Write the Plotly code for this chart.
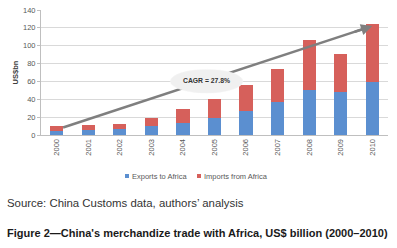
import plotly.graph_objects as go

years = [2000, 2001, 2002, 2003, 2004, 2005, 2006, 2007, 2008, 2009, 2010]
exports = [5.0, 6.0, 7.0, 10.2, 13.8, 18.7, 26.7, 37.3, 50.8, 47.7, 59.9]
imports = [5.6, 4.8, 5.4, 8.4, 15.6, 21.1, 28.8, 36.3, 56.0, 43.3, 64.5]
totals = [e + i for e, i in zip(exports, imports)]
y_ticks = [0, 20, 40, 60, 80, 100, 120, 140]
series_names = ["Exports to Africa", "Imports from Africa"]
cagr_label = "CAGR = 27.8%"

BLUE = "#5b8fd0"
RED = "#d6605b"
FONT = "Liberation Sans, Arial, sans-serif"

L, R, T, B, W, H = 41, 9, 10, 113, 397, 248
PW, PH = W - L - R, H - T - B


def px_x(px):
    return (px - L) / PW


def px_y(py):
    return (H - B - py) / PH


fig = go.Figure()
fig.add_trace(go.Bar(x=years, y=exports, name=series_names[0], marker_color=BLUE,
                     marker_line_width=0, showlegend=False))
fig.add_trace(go.Bar(x=years, y=imports, name=series_names[1], marker_color=RED,
                     marker_line_width=0, showlegend=False))

# CAGR arrow (line under the ellipse, arrowhead on top)
x0, y0 = years[0] + 0.2, totals[0] - 2.2
x1, y1 = years[-1], totals[-1] - 2.4
fig.add_shape(type="line", xref="x", yref="y", x0=x0, y0=y0, x1=x1 - 0.3,
              y1=y0 + (y1 - y0) * (x1 - 0.3 - x0) / (x1 - x0),
              line=dict(color="#7f7f7f", width=2.5), layer="above")
fig.add_shape(type="circle", xref="x", yref="y", x0=2003.6, x1=2005.9, y0=47.0, y1=73.5,
              fillcolor="#f0f0f0", line=dict(color="#f4f4f4", width=0.5), layer="above")
fig.add_annotation(x=x1, y=y1, ax=x1 - 0.6, ay=y1 - (y1 - y0) * 0.6 / (x1 - x0),
                   xref="x", yref="y", axref="x", ayref="y", text="", showarrow=True,
                   arrowhead=2, arrowsize=0.9, arrowwidth=2.5, arrowcolor="#7f7f7f")
fig.add_annotation(x=2004.76, y=60.5, xref="x", yref="y", text="<b>" + cagr_label + "</b>",
                   showarrow=False, font=dict(family=FONT, size=6.8, color="#333333"))

# legend (small squares + labels)
legend_items = [(127, BLUE, series_names[0]), (199, RED, series_names[1])]
for sx, col, name in legend_items:
    fig.add_shape(type="rect", xref="paper", yref="paper",
                  x0=px_x(sx - 2), x1=px_x(sx + 2), y0=px_y(178), y1=px_y(174),
                  fillcolor=col, line_width=0)
    fig.add_annotation(xref="paper", yref="paper", x=px_x(sx + 3), y=px_y(176),
                       xanchor="left", yanchor="middle", text=name, showarrow=False,
                       font=dict(family=FONT, size=7.5, color="#595959"))

fig.update_layout(
    width=W, height=H,
    margin=dict(l=L, r=R, t=T, b=B, autoexpand=False),
    barmode="stack", bargap=0.58,
    plot_bgcolor="white", paper_bgcolor="white",
    font=dict(family=FONT, size=7.5, color="#595959"),
    showlegend=False,
    xaxis=dict(tickmode="array", tickvals=years, ticktext=[str(y) for y in years],
               tickangle=-90, showgrid=False, showline=True, linecolor="#bfbfbf",
               linewidth=1, ticks="", range=[1999.5, 2010.5],
               tickfont=dict(family=FONT, size=7.5, color="#595959")),
    yaxis=dict(tickvals=y_ticks, range=[0, 140], showgrid=True, gridcolor="#d9d9d9",
               gridwidth=1, showline=True, linecolor="#bfbfbf", linewidth=1,
               ticks="outside", ticklen=3, tickcolor="#bfbfbf", zeroline=False,
               tickfont=dict(family=FONT, size=7.5, color="#595959"),
               title=dict(text="<b>US$bn</b>", font=dict(family=FONT, size=7.5, color="#404040"),
                          standoff=3)),
)

fig.add_annotation(xref="paper", yref="paper", x=px_x(5), y=px_y(202.5), xanchor="left",
                   yanchor="middle", text="Source: China Customs data, authors\u2019 analysis",
                   showarrow=False, font=dict(family=FONT, size=11.4, color="#333333"))
fig.add_annotation(xref="paper", yref="paper", x=px_x(5), y=px_y(233), xanchor="left",
                   yanchor="middle",
                   text="<b>Figure 2\u2014China's merchandize trade with Africa, US$ billion (2000\u20132010)</b>",
                   showarrow=False, font=dict(family=FONT, size=11, color="#1a1a1a"))

fig.write_html("out.html", config={"displayModeBar": False},
               post_script="document.body.style.margin='0';")
